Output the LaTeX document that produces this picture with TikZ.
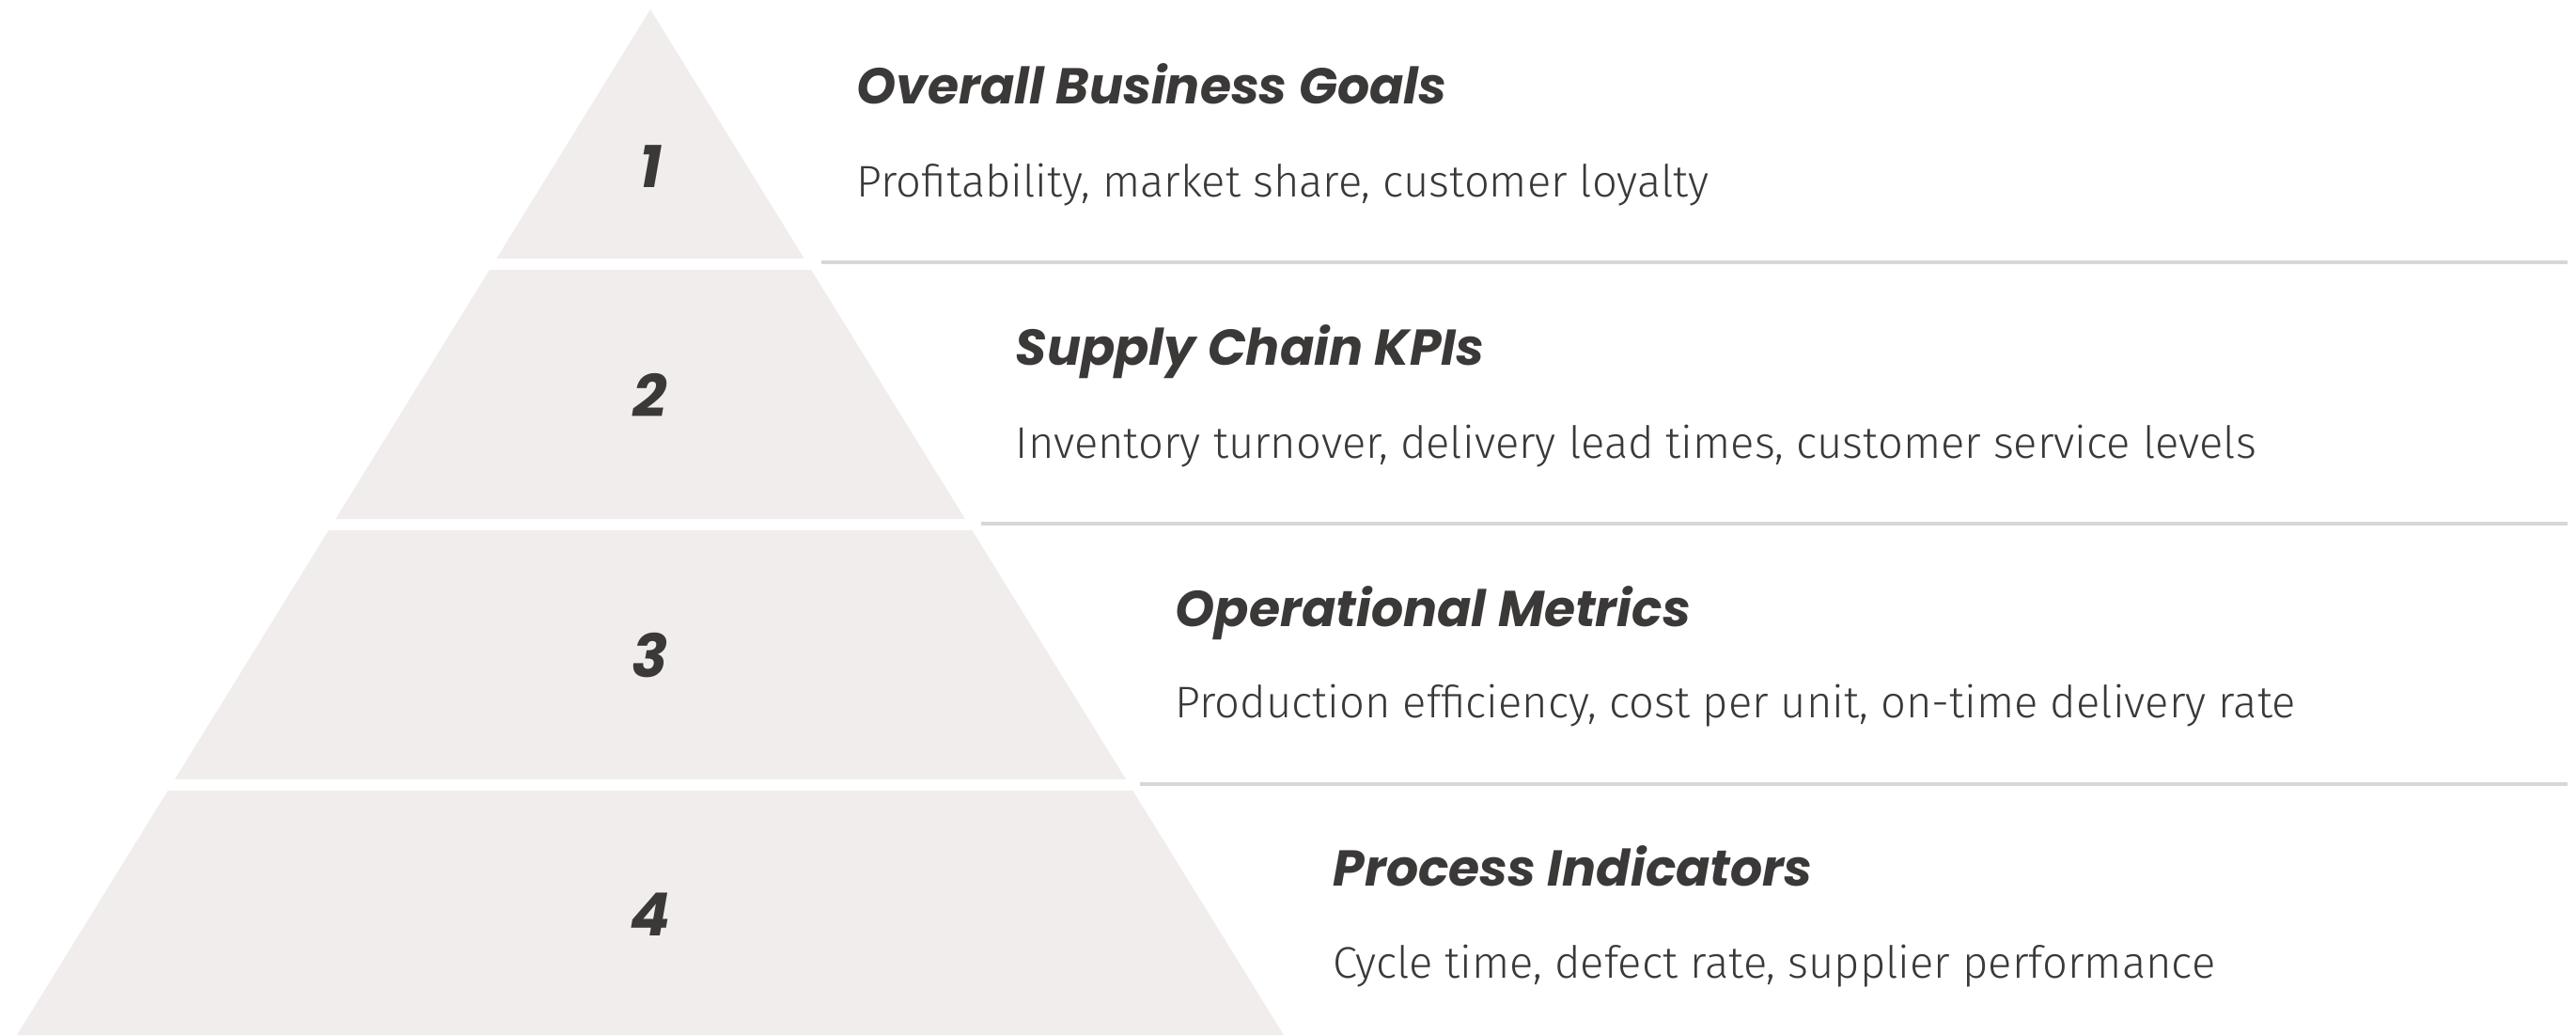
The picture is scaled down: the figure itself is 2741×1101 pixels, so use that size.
\documentclass[tikz,border=0pt]{standalone}
\usepackage{fontspec}
\newfontfamily\headfont{Poppins}
\newfontfamily\bodyfont{Fira Sans Light}
\definecolor{ink}{HTML}{3B3838}
\definecolor{tierfill}{HTML}{F0EDEC}
\definecolor{rulegray}{HTML}{D9D6D6}
\begin{document}
\begin{tikzpicture}[x=0.1mm,y=-0.1mm,
  tier/.style={fill=tierfill,draw=none},
  num/.style={font=\headfont\fontsize{18}{20}\selectfont\bfseries\itshape,text=ink,inner sep=0pt},
  title/.style={anchor=base west,font=\headfont\fontsize{15.25}{18}\selectfont\bfseries\itshape,text=ink,inner sep=0pt},
  desc/.style={anchor=base west,font=\bodyfont\fontsize{13.4}{16}\selectfont,text=ink,inner sep=0pt},
  sep/.style={draw=rulegray,line width=1.1pt}]
\useasboundingbox (0,0) rectangle (2741,1101);

% pyramid tiers
\fill[tier] (692,10) -- (855.7,275) -- (528.3,275) -- cycle;
\fill[tier] (520.9,287) -- (863.1,287) -- (1026.9,552) -- (357.1,552) -- cycle;
\fill[tier] (349.7,564) -- (1034.3,564) -- (1198,829) -- (186,829) -- cycle;
\fill[tier] (178.6,841) -- (1205.4,841) -- (1366,1101) -- (18,1101) -- cycle;

% tier numbers
\node[num] (n1) at (692,177) {1};
\node[num] (n2) at (692,420) {2};
\node[num] (n3) at (692,697) {3};
\node[num] (n4) at (692,973) {4};

% separators
\draw[sep] (874,279) -- (2732,279);
\draw[sep] (1044,557) -- (2732,557);
\draw[sep] (1213,834) -- (2732,834);

% labels
\node[title] (t1) at (911,110) {Overall Business Goals};
\node[desc]  (d1) at (911,209) {Profitability, market share, customer loyalty};
\node[title] (t2) at (1080,388) {Supply Chain KPIs};
\node[desc]  (d2) at (1080,487) {Inventory turnover, delivery lead times, customer service levels};
\node[title] (t3) at (1250,666) {Operational Metrics};
\node[desc]  (d3) at (1250,763) {Production efficiency, cost per unit, on-time delivery rate};
\node[title] (t4) at (1418,942) {Process Indicators};
\node[desc]  (d4) at (1418,1040) {Cycle time, defect rate, supplier performance};
\end{tikzpicture}
\end{document}
